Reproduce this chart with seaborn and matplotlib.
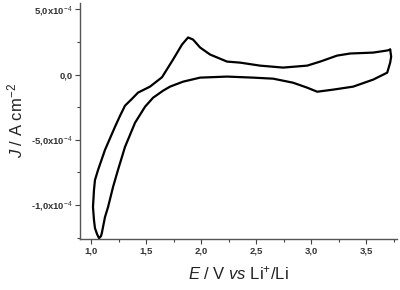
import numpy as np
import matplotlib
matplotlib.use("Agg")
import matplotlib.pyplot as plt
import seaborn as sns
from matplotlib.ticker import MultipleLocator, FixedLocator

# cyclic voltammogram (closed loop, drawn in order)
E = [3.718, 3.691, 3.564, 3.355, 3.236, 3.082, 2.964, 2.745, 2.536, 2.355,
     2.236, 2.082, 1.991, 1.927, 1.882, 1.827, 1.745, 1.645, 1.536, 1.427,
     1.373, 1.309, 1.264, 1.218, 1.127, 1.064, 1.036, 1.027, 1.018, 1.027,
     1.036, 1.055, 1.073, 1.091, 1.100, 1.109, 1.127, 1.155, 1.200, 1.245,
     1.309, 1.400, 1.491, 1.564, 1.655, 1.718, 1.836, 1.991, 2.236, 2.473,
     2.655, 2.836, 2.964, 3.055, 3.200, 3.382, 3.564, 3.691, 3.718, 3.727,
     3.718]
J = [1.92e-4, 1.85e-4, 1.69e-4, 1.62e-4, 1.46e-4, 1.00e-4, 0.69e-4, 0.54e-4, 0.69e-4, 0.92e-4,
     1.00e-4, 1.54e-4, 2.08e-4, 2.69e-4, 2.85e-4, 2.31e-4, 1.15e-4, -0.20e-4, -0.92e-4, -1.38e-4,
     -1.85e-4, -2.38e-4, -3.15e-4, -4.00e-4, -5.77e-4, -7.31e-4, -8.08e-4, -8.85e-4, -1.015e-3, -1.115e-3,
     -1.177e-3, -1.223e-3, -1.254e-3, -1.238e-3, -1.208e-3, -1.169e-3, -1.092e-3, -1.015e-3, -8.62e-4, -7.31e-4,
     -5.54e-4, -3.69e-4, -2.46e-4, -1.77e-4, -1.23e-4, -0.92e-4, -0.54e-4, -0.23e-4, -0.15e-4, -0.23e-4,
     -0.31e-4, -0.62e-4, -1.00e-4, -1.31e-4, -1.15e-4, -0.92e-4, -0.38e-4, 0.15e-4, 0.92e-4, 1.38e-4,
     1.92e-4]

x_ticks = [1.0, 1.5, 2.0, 2.5, 3.0, 3.5]
x_ticklabels = ["1,0", "1,5", "2,0", "2,5", "3,0", "3,5"]
y_ticks = [5e-4, 0.0, -5e-4, -1e-3]
y_ticklabels = ["5,0x10$^{-4}$", "0,0", "-5,0x10$^{-4}$", "-1,0x10$^{-4}$"]

sns.set_theme(style="ticks")
plt.rcParams["font.family"] = ["Liberation Sans", "DejaVu Sans"]
plt.rcParams["mathtext.fontset"] = "custom"
plt.rcParams["mathtext.rm"] = "Liberation Sans"
plt.rcParams["mathtext.it"] = "Liberation Sans:italic"
plt.rcParams["mathtext.bf"] = "Liberation Sans:bold"

fig = plt.figure(figsize=(4.0, 2.9), dpi=100)
ax = fig.add_axes([0.2, 0.176, 0.7925, 0.814])

df = {"E": E, "J": J}
sns.lineplot(x="E", y="J", data=df, sort=False, estimator=None, ax=ax,
             color="black", linewidth=1.6)

ax.set_xlim(0.9, 3.78)
ax.set_ylim(-1.26e-3, 5.5e-4)
ax.xaxis.set_major_locator(FixedLocator(x_ticks))
ax.set_xticklabels(x_ticklabels)
ax.xaxis.set_minor_locator(MultipleLocator(0.25))
ax.yaxis.set_major_locator(FixedLocator(y_ticks))
ax.set_yticklabels(y_ticklabels)
ax.yaxis.set_minor_locator(MultipleLocator(2.5e-4))

for lab in ax.get_xticklabels() + ax.get_yticklabels():
    lab.set_fontsize(6.8)
    lab.set_fontweight("bold")
    lab.set_color("#333333")

ax.tick_params(which="major", length=3.5, width=0.8, color="#444444", pad=2)
ax.tick_params(which="minor", length=2, width=0.8, color="#444444")
sns.despine(ax=ax)
for s in ["left", "bottom"]:
    ax.spines[s].set_color("#555555")
    ax.spines[s].set_linewidth(1.0)

ax.set_xlabel(r"$\it{E}$ / V $\it{vs}$ Li$^{+}$/Li", fontsize=12, color="#222222", labelpad=6)
ax.set_ylabel(r"$\it{J}$ / A cm$^{-2}$", fontsize=12, color="#222222", labelpad=4)

fig.savefig("out.png", dpi=100)
